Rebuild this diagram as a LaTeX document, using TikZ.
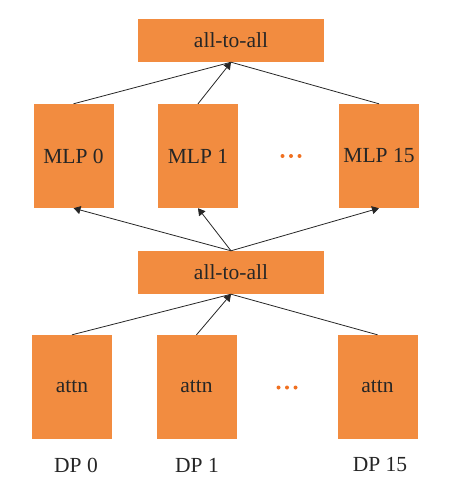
\documentclass[tikz,border=0pt]{standalone}
\usepackage{fontspec}
\setmainfont{Liberation Serif}
\usetikzlibrary{arrows.meta}
\definecolor{boxorange}{RGB}{242,140,64}
\definecolor{dotorange}{RGB}{240,112,32}
\begin{document}
\begin{tikzpicture}[x=1pt,y=-1pt,
  box/.style={fill=boxorange,draw=none,inner sep=0pt,font=\fontsize{21.5}{24}\selectfont,text=black!85},
  widebox/.style={box,minimum width=186pt,minimum height=43pt},
  tallbox/.style={box,minimum width=80pt,minimum height=104pt},
  lbl/.style={inner sep=0pt,font=\fontsize{21.5}{24}\selectfont,text=black!85},
  dot/.style={fill=dotorange},
  conn/.style={draw=black!85,line width=0.8pt},
  arr/.style={conn,-{Triangle[length=7pt,width=8pt]}}]
\useasboundingbox (0,0) rectangle (462,484);
\node[widebox] (top) at (231,40.5) {all-to-all};
\node[tallbox] (m0) at (73.5,156) {MLP 0};
\node[tallbox] (m1) at (198,156) {MLP 1};
\node[tallbox] (m15) at (379,156) {MLP 15};
\foreach \x in {282.5,291,299.5} \fill[dot] (\x,156) circle (2pt);
\node[widebox] (mid) at (231,272.5) {all-to-all};
\node[tallbox] (a0) at (72,387) {attn};
\node[tallbox] (a1) at (196.5,387) {attn};
\node[tallbox] (a15) at (377.5,387) {attn};
\foreach \x in {278.5,287,295.5} \fill[dot] (\x,387.5) circle (2pt);
\node[lbl] (p0) at (76,465) {DP 0};
\node[lbl] (p1) at (197,465) {DP 1};
\node[lbl] (p15) at (380,465) {DP 15};
% attn -> mid
\draw[conn] (a0.north) -- (mid.south);
\draw[conn] (a15.north) -- (mid.south);
\draw[arr] (a1.north) -- (mid.south);
% mid -> MLPs
\draw[arr] (mid.north) -- (m0.south);
\draw[arr] (mid.north) -- (m1.south);
\draw[arr] (mid.north) -- (m15.south);
% MLPs -> top
\draw[conn] (m0.north) -- (top.south);
\draw[conn] (m15.north) -- (top.south);
\draw[arr] (m1.north) -- (top.south);
\end{tikzpicture}
\end{document}
